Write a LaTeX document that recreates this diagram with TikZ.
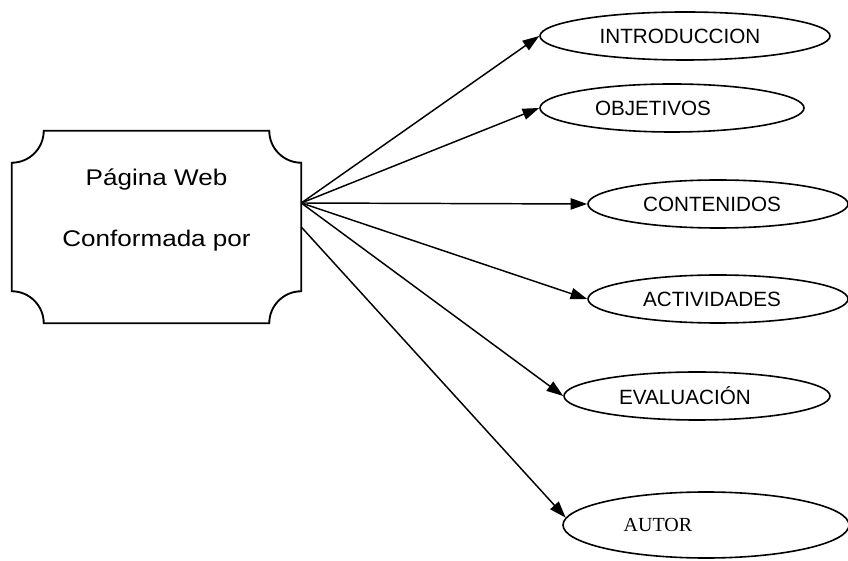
\documentclass[tikz,border=0pt]{standalone}
\usepackage{fontspec}
\setmainfont{Liberation Sans}
\newfontfamily\seriffont{Liberation Serif}
\newfontfamily\boxfont{Liberation Sans}[FakeStretch=1.15]
\usetikzlibrary{shapes.geometric,arrows.meta}

\newcommand{\hueco}[1]{\rule{#1}{0pt}}

\tikzset{
    marco/.style={rectangle, inner sep=0pt,
        minimum width=216.75pt, minimum height=144pt},
    borde/.style={line width=1.4pt},
    webtext/.style={align=center, inner sep=0pt,
        font=\boxfont\fontsize{17}{45.75}\selectfont},
    tema/.style={ellipse, draw, line width=1.2pt, inner sep=0pt,
        minimum height=36pt,
        font=\fontsize{15.5}{18}\selectfont},
    flecha/.style={line width=1.1pt,
        -{Triangle[length=12.5pt,width=8.5pt]}}
}

\begin{document}
\begin{tikzpicture}[x=0.75pt,y=0.75pt]
    \useasboundingbox (0,0) rectangle (848,560);

    % Main box
    \node[marco] (web) at (156.5,333) {};
    \draw[borde] ([xshift=24pt]web.north west)
        -- ([xshift=-24pt]web.north east)
        arc[start angle=180,end angle=270,radius=24pt]
        -- ([yshift=24pt]web.south east)
        arc[start angle=90,end angle=180,radius=24pt]
        -- ([xshift=24pt]web.south west)
        arc[start angle=0,end angle=90,radius=24pt]
        -- ([yshift=-24pt]web.north west)
        arc[start angle=270,end angle=360,radius=24pt]
        -- cycle;
    \node[webtext] (titulo) at (156.5,350)
        {Página Web\\Conformada por};
    \coordinate (salida) at ([yshift=18pt]web.east);

    % Topics
    \node[tema, minimum width=217.5pt] (intro) at (685,524)
        {INTRODUCCION\hueco{7.5pt}};
    \node[tema, minimum width=198pt] (objetivos) at (672,452)
        {OBJETIVOS\hueco{28.5pt}};
    \node[tema, minimum width=195pt] (contenidos) at (718,356)
        {CONTENIDOS\hueco{9pt}};
    \node[tema, minimum width=195pt] (actividades) at (718,261)
        {ACTIVIDADES\hueco{9pt}};
    \node[tema, minimum width=199.5pt] (evaluacion) at (697,164)
        {EVALUACIÓN\hueco{18pt}};
    \node[tema, minimum width=214.5pt, minimum height=49.5pt,
        font=\seriffont\fontsize{15}{18}\selectfont] (autor) at (706,35)
        {AUTOR\hueco{72pt}};

    % Arrows
    \draw[flecha] (salida) -- (intro.west);
    \draw[flecha] (salida) -- (objetivos.west);
    \draw[flecha] (salida) -- (contenidos.west);
    \draw[flecha] (salida) -- (actividades.west);
    \draw[flecha] (salida) -- (evaluacion.west);
    \draw[flecha] (web.east) -- (autor.177);
\end{tikzpicture}
\end{document}
